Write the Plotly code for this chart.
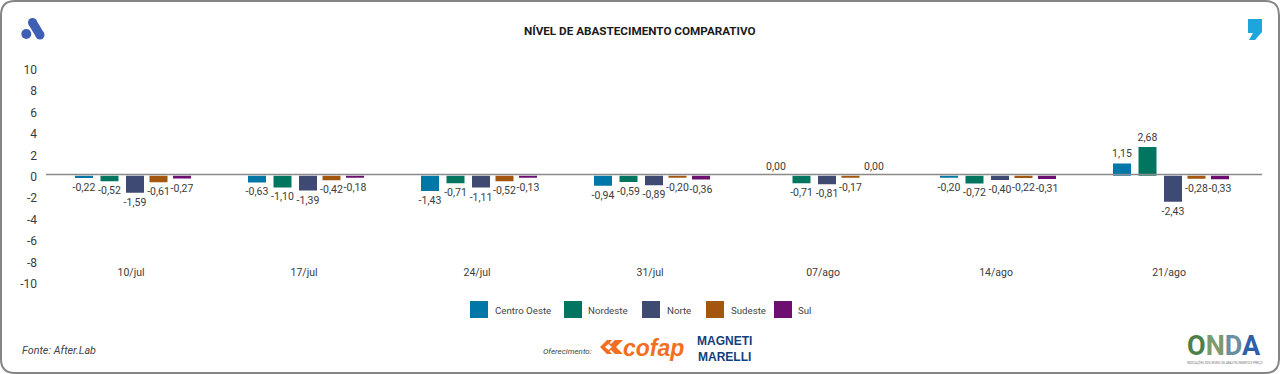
import plotly.graph_objects as go

W, H = 1280, 374

title = "NÍVEL DE ABASTECIMENTO COMPARATIVO"
categories = ["10/jul", "17/jul", "24/jul", "31/jul", "07/ago", "14/ago", "21/ago"]
series_names = ["Centro Oeste", "Nordeste", "Norte", "Sudeste", "Sul"]
centro_oeste = [-0.22, -0.63, -1.43, -0.94, 0.00, -0.20, 1.15]
nordeste = [-0.52, -1.10, -0.71, -0.59, -0.71, -0.72, 2.68]
norte = [-1.59, -1.39, -1.11, -0.89, -0.81, -0.40, -2.43]
sudeste = [-0.61, -0.42, -0.52, -0.20, -0.17, -0.22, -0.28]
sul = [-0.27, -0.18, -0.13, -0.36, 0.00, -0.31, -0.33]
y_ticks = [10, 8, 6, 4, 2, 0, -2, -4, -6, -8, -10]
colors = ["#0077A6", "#007560", "#3E4A72", "#A3560E", "#6C0F70"]
values = [centro_oeste, nordeste, norte, sudeste, sul]

STEP = 173.0
BAR_W = 18.0
bar_centres_px = [-51, -25.5, 0, 23.5, 47]
FONT = "Roboto"
TXT = "#3b3b3b"


def px(x):
    return x / W


def py(y):
    return 1 - y / H


fig = go.Figure()
for name, vals, col, c in zip(series_names, values, colors, bar_centres_px):
    fig.add_bar(
        x=categories, y=vals, name=name, marker=dict(color=col, line=dict(width=0)),
        width=BAR_W / STEP, offset=(c - BAR_W / 2) / STEP,
        text=[f"{v:.2f}".replace(".", ",") for v in vals],
        textposition="outside", cliponaxis=False, constraintext="none",
        textfont=dict(family=FONT, size=10.5, color=TXT), showlegend=False,
    )

shapes = []
annots = []


def text(x, y, s, size=10, color=TXT, anchor="left", family=FONT):
    annots.append(dict(x=px(x), y=py(y), xref="paper", yref="paper", text=s, showarrow=False,
                       xanchor=anchor, yanchor="middle", align=anchor, borderpad=0,
                       font=dict(family=family, size=size, color=color)))


def path(points, fill, close=True):
    d = "M" + " L".join(f"{px(a):.5f},{py(b):.5f}" for a, b in points) + (" Z" if close else "")
    shapes.append(dict(type="path", xref="paper", yref="paper", path=d, fillcolor=fill, line=dict(width=0)))


def circle(cx, cy, r, fill):
    shapes.append(dict(type="circle", xref="paper", yref="paper", x0=px(cx - r), x1=px(cx + r),
                       y0=py(cy + r), y1=py(cy - r), fillcolor=fill, line=dict(width=0)))


# Rounded frame
l, t, r, b, q = 1, 1, W - 1, H - 1, 14
frame = (f"M{px(l + q)},{py(t)} L{px(r - q)},{py(t)} Q{px(r)},{py(t)} {px(r)},{py(t + q)} "
         f"L{px(r)},{py(b - q)} Q{px(r)},{py(b)} {px(r - q)},{py(b)} "
         f"L{px(l + q)},{py(b)} Q{px(l)},{py(b)} {px(l)},{py(b - q)} "
         f"L{px(l)},{py(t + q)} Q{px(l)},{py(t)} {px(l + q)},{py(t)} Z")
shapes.append(dict(type="path", xref="paper", yref="paper", path=frame, line=dict(color="#858585", width=2)))

# Zero line sits just above the bars' base, as in the reference
shapes.append(dict(type="line", xref="paper", yref="paper", x0=px(46), x1=px(1262), y0=py(174.4), y1=py(174.4),
                   line=dict(color="#8a8a8a", width=1.5), layer="above"))

# Legend
legend_swatch = [470, 564, 642, 706, 774]
legend_text = [494, 587, 666, 730, 797]
for name, col, sx, tx in zip(series_names, colors, legend_swatch, legend_text):
    path([(sx, 301), (sx + 18, 301), (sx + 18, 318), (sx, 318)], col)
    text(tx, 310, name, size=9.7, color="#444444")

# Logo A (top-left)
BLUE = "#3F5FB5"
circle(26.3, 34, 5, BLUE)
circle(32.5, 22.5, 4.5, BLUE)
circle(40, 35, 4.5, BLUE)
path([(36.36, 20.19), (43.86, 32.69), (36.14, 37.31), (28.64, 24.81)], BLUE)

# Comma logo (top-right)
path([(1248, 19), (1262, 19), (1262, 32), (1255, 40), (1249, 40), (1253, 33), (1248, 33)], "#1DA6DC")

# Sponsors
text(21, 350, "<i>Fonte: After.Lab</i>", size=10.8, color="#444444")
text(542, 351, "<i>Oferecimento:</i>", size=8, color="#444444")
ORANGE = "#F26F22"
path([(600, 347), (607, 340), (623, 340), (616, 347), (623, 354), (607, 354)], ORANGE)
path([(605, 347), (608.5, 344), (612, 347), (608.5, 350)], "#ffffff")
path([(612, 340), (615, 340), (611, 344), (609.5, 343)], "#ffffff")
path([(612, 354), (615, 354), (611, 350), (609.5, 351)], "#ffffff")
text(622, 348, "<b><i>cofap</i></b>", size=23, color=ORANGE, family="Liberation Sans")
NAVY = "#123F7F"
text(724, 349, "<b>MAGNETI<br>MARELLI</b>", size=12, color=NAVY, anchor="center", family="Liberation Sans")
onda = ('<b><span style="color:#4E7F4A">O</span><span style="color:#7C9A6E">N</span>'
        '<span style="color:#6C8FA0">D</span><span style="color:#2F5FA8">A</span></b>')
text(1186, 346, onda, size=27, family="Roboto")
text(1186, 362, "INDICAÇÕES DOS NÍVEIS DE ABASTECIMENTO E PREÇO", size=3, color="#777777")

text(640, 31, f"<b>{title}</b>", size=11.7, color="#1a1a1a", anchor="center")

fig.update_layout(
    width=W, height=H, margin=dict(l=0, r=0, t=0, b=0), autosize=False,
    paper_bgcolor="white", plot_bgcolor="white", barmode="group",
    shapes=shapes, annotations=annots, font=dict(family=FONT, size=11, color=TXT),
    xaxis=dict(domain=[px(46), px(1262)], range=[(46 - 135) / STEP, (1262 - 135) / STEP],
               type="category", categoryorder="array", categoryarray=categories, automargin=False,
               anchor="free", position=py(264), showline=False, showgrid=False, zeroline=False,
               ticks="", ticklabelshift=-4, tickfont=dict(family=FONT, size=10.5, color=TXT)),
    yaxis=dict(domain=[py(282.7), py(68.7)], range=[-10, 10], tickmode="array", tickvals=y_ticks,
               ticktext=[str(v) for v in y_ticks], showgrid=False, showline=False, automargin=False,
               zeroline=False, ticks="", ticklabelstandoff=8, ticklabelshift=1,
               tickfont=dict(family=FONT, size=12, color=TXT)),
)
fig.write_html("out.html", config={"displayModeBar": False},
               post_script="document.body.style.margin='0';document.documentElement.style.overflow='hidden';")
